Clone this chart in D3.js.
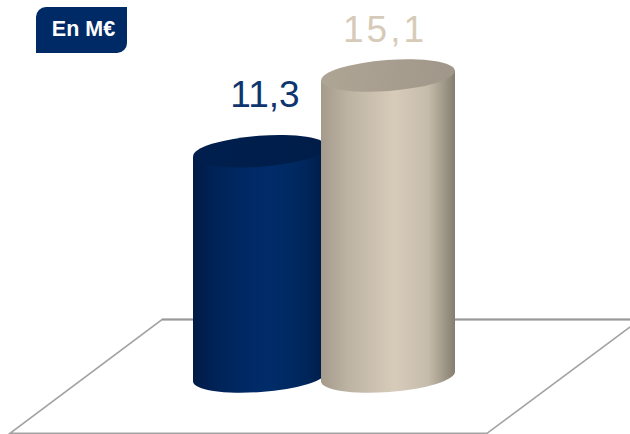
<!DOCTYPE html>
<html>
<head>
<meta charset="utf-8">
<script src="https://cdnjs.cloudflare.com/ajax/libs/d3/7.8.5/d3.min.js"></script>
<style>
    html, body { margin: 0; padding: 0; background: #fff; }
    svg { display: block; }
    text { font-family: "Liberation Sans", Arial, sans-serif; }
</style>
</head>
<body>
<svg width="630" height="434"></svg>
<script>
// values, the years are not shown so the bars just get a name
var categories = ["bleu", "beige"];
var values = [11.3, 15.1];
var valueLabels = ["11,3", "15,1"];
var unitLabel = "En M€";

var svg = d3.select("svg");
var defs = svg.append("defs");

var xScale = d3.scalePoint().domain(categories).range([260, 388]);
var yScale = d3.scaleLinear().domain([0, 15.1]).range([376.5, 75.5]);

var rx = 67, ry = 15.5, tilt = -4.3;
var dy = rx * Math.sin(-tilt * Math.PI / 180);

var bodyStops = {
    bleu: ["#001b47", "#00245a", "#002a66", "#002c6a", "#00285f", "#001c48"],
    beige: ["#a49b8c", "#bdb3a3", "#d0c5b3", "#d7ccba", "#c6bcab", "#857e70"]
};
var topStops = {
    bleu: ["#001f4e", "#001d49"],
    beige: ["#aea595", "#a0978a"]
};
var labelColors = { bleu: "#0f3570", beige: "#d6cbb9" };
var labelShift = { bleu: { x: 5, y: -44, ls: 0 }, beige: { x: -3, y: -33.5, ls: 3 } };

categories.forEach(function (c) {
    var g = defs.append("linearGradient").attr("id", "body-" + c);
    var offs = [0, 0.2, 0.45, 0.55, 0.8, 1];
    bodyStops[c].forEach(function (col, i) {
        g.append("stop").attr("offset", offs[i]).attr("stop-color", col);
    });
    var t = defs.append("linearGradient").attr("id", "top-" + c);
    topStops[c].forEach(function (col, i) {
        t.append("stop").attr("offset", i).attr("stop-color", col);
    });
});

// floor, the back edge is a bit heavier than the others
var floor = [[162, 319.5], [640, 319.5], [487, 433.3], [10, 433.3]];
svg.append("path")
    .attr("d", d3.line()(floor) + "Z")
    .attr("fill", "none")
    .attr("stroke", "#a3a3a3")
    .attr("stroke-width", 1.6);
svg.append("path")
    .attr("d", d3.line()(floor.slice(0, 2)))
    .attr("fill", "none")
    .attr("stroke", "#999")
    .attr("stroke-width", 2);

// cylinders
var bars = svg.selectAll(".bar")
    .data(categories.map(function (c, i) { return { name: c, value: values[i], label: valueLabels[i] }; }))
    .enter().append("g").attr("class", "bar");

bars.append("path")
    .attr("fill", function (d) { return "url(#body-" + d.name + ")"; })
    .attr("d", function (d) {
        var cx = xScale(d.name), top = yScale(d.value), base = yScale(0);
        return "M" + (cx - rx) + "," + (top + dy)
            + "L" + (cx - rx) + "," + (base + dy)
            + "A" + rx + "," + ry + " " + tilt + " 0 0 " + (cx + rx) + "," + (base - dy)
            + "L" + (cx + rx) + "," + (top - dy) + "Z";
    });

bars.append("ellipse")
    .attr("rx", rx)
    .attr("ry", ry)
    .attr("transform", function (d) {
        return "translate(" + xScale(d.name) + "," + yScale(d.value) + ") rotate(" + tilt + ")";
    })
    .attr("fill", function (d) { return "url(#top-" + d.name + ")"; });

bars.append("text")
    .attr("x", function (d) { return xScale(d.name) + labelShift[d.name].x; })
    .attr("y", function (d) { return yScale(d.value) + labelShift[d.name].y; })
    .attr("text-anchor", "middle")
    .attr("font-size", "37px")
    .attr("letter-spacing", function (d) { return labelShift[d.name].ls; })
    .attr("fill", function (d) { return labelColors[d.name]; })
    .text(function (d) { return d.label; });

// unit badge, only two corners are rounded
svg.append("path")
    .attr("d", "M36,53V17A10,10 0 0 1 46,7H127V43A10,10 0 0 1 117,53Z")
    .attr("fill", "#002a66");

svg.append("text")
    .attr("x", 83.5)
    .attr("y", 36)
    .attr("text-anchor", "middle")
    .attr("font-size", "21.5px")
    .attr("font-weight", "bold")
    .attr("fill", "#fff")
    .text(unitLabel);
</script>
</body>
</html>
